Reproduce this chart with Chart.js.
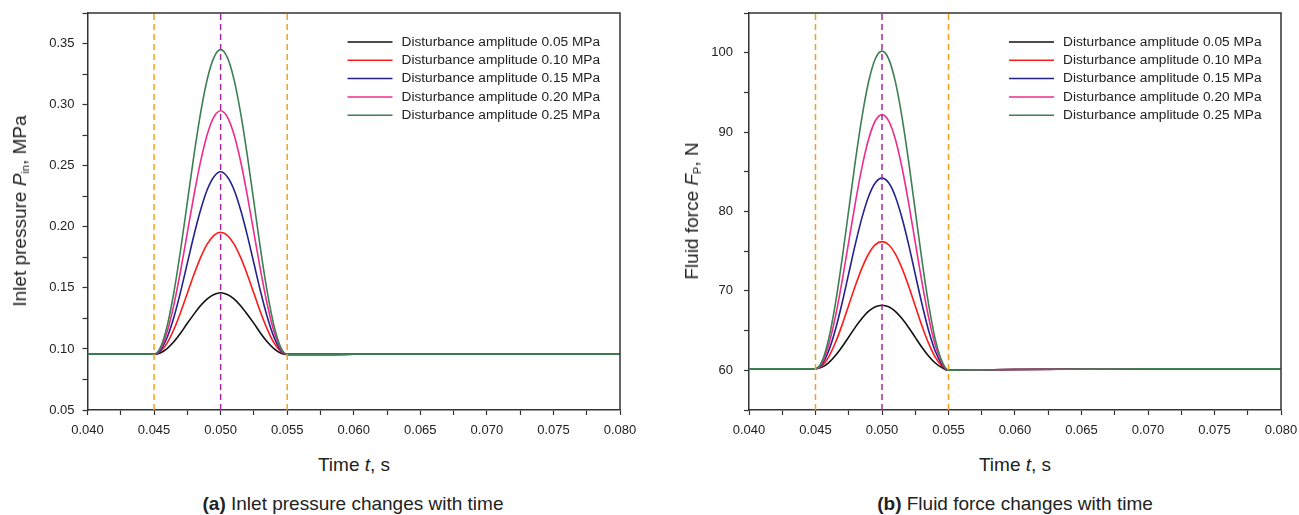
<!DOCTYPE html>
<html>
<head>
<meta charset="utf-8">
<script src="https://cdn.jsdelivr.net/npm/chart.js@4.4.1/dist/chart.umd.min.js"></script>
<style>
    body { margin: 0; background: #fff; font-family: "Liberation Sans", Arial, sans-serif; color: #222; }
    #wrap { position: relative; width: 1299px; height: 515px; overflow: hidden; }
    #wrap canvas { position: absolute; top: 0; }
    .lbl { position: absolute; transform: translate(-50%, -50%); white-space: nowrap; font-size: 19px; }
    .rot { transform: translate(-50%, -50%) rotate(-90deg); }
    .lbl sub { font-size: 11px; vertical-align: -3px; }
</style>
</head>
<body>
<div id="wrap">
    <canvas id="chartPressure" width="640" height="440" style="left:0"></canvas>
    <canvas id="chartForce" width="649" height="440" style="left:650px"></canvas>

    <div class="lbl rot" style="left:20px;top:211px">Inlet pressure <i>P</i><sub>in</sub>, MPa</div>
    <div class="lbl" style="left:354px;top:465px">Time <i>t</i>, s</div>
    <div class="lbl" style="left:353px;top:504px"><b>(a)</b> Inlet pressure changes with time</div>

    <div class="lbl rot" style="left:692px;top:211px">Fluid force <i>F</i><sub>P</sub>, N</div>
    <div class="lbl" style="left:1015px;top:465px">Time <i>t</i>, s</div>
    <div class="lbl" style="left:1015px;top:504px"><b>(b)</b> Fluid force changes with time</div>
</div>

<script>
// time axis (s)
const time = [0.040, 0.0425,
    0.045, 0.0455, 0.046, 0.0465, 0.047, 0.0475, 0.048, 0.0485, 0.049, 0.0495, 0.050,
    0.0505, 0.051, 0.0515, 0.052, 0.0525, 0.053, 0.0535, 0.054, 0.0545, 0.055,
    0.0575, 0.060, 0.065, 0.070, 0.075, 0.080];

const seriesLabels = [
    "Disturbance amplitude 0.05 MPa",
    "Disturbance amplitude 0.10 MPa",
    "Disturbance amplitude 0.15 MPa",
    "Disturbance amplitude 0.20 MPa",
    "Disturbance amplitude 0.25 MPa"
];

// Inlet pressure (MPa)
const pressure005 = [0.0957, 0.0957,
    0.0957, 0.0969, 0.1005, 0.106, 0.113, 0.121, 0.1285, 0.1355, 0.141, 0.1445, 0.146,
    0.1445, 0.141, 0.1354, 0.1284, 0.1209, 0.1129, 0.1059, 0.1003, 0.0967, 0.0955,
    0.0955, 0.0956, 0.0956, 0.0956, 0.0956, 0.0956];
const pressure010 = [0.0957, 0.0957,
    0.0957, 0.0981, 0.1052, 0.1163, 0.1301, 0.1456, 0.1611, 0.175, 0.186, 0.193, 0.1955,
    0.193, 0.186, 0.1749, 0.161, 0.1455, 0.13, 0.1162, 0.1051, 0.098, 0.0955,
    0.0955, 0.0956, 0.0956, 0.0956, 0.0956, 0.0956];
const pressure015 = [0.0957, 0.0957,
    0.0957, 0.0994, 0.11, 0.1264, 0.1471, 0.1702, 0.1933, 0.214, 0.2305, 0.241, 0.245,
    0.241, 0.2305, 0.2139, 0.1932, 0.1701, 0.147, 0.1263, 0.1099, 0.0993, 0.0955,
    0.0955, 0.0956, 0.0956, 0.0956, 0.0956, 0.0956];
const pressure020 = [0.0957, 0.0957,
    0.0957, 0.1006, 0.1147, 0.1367, 0.1644, 0.1952, 0.226, 0.2537, 0.2758, 0.29, 0.295,
    0.29, 0.2757, 0.2536, 0.2259, 0.1951, 0.1643, 0.1366, 0.1146, 0.1005, 0.0955,
    0.0955, 0.0956, 0.0956, 0.0956, 0.0956, 0.0956];
const pressure025 = [0.0957, 0.0957,
    0.0957, 0.1018, 0.1195, 0.147, 0.1816, 0.2202, 0.2588, 0.2934, 0.321, 0.3387, 0.345,
    0.3387, 0.3209, 0.2933, 0.2587, 0.2201, 0.1815, 0.1469, 0.1194, 0.1017, 0.0955,
    0.0955, 0.0956, 0.0956, 0.0956, 0.0956, 0.0956];

// Fluid force (N)
const force005 = [60.2, 60.2,
    60.2, 60.4, 60.96, 61.85, 62.96, 64.2, 65.44, 66.55, 67.44, 68.0, 68.2,
    68.0, 67.43, 66.52, 65.4, 64.15, 62.9, 61.8, 60.92, 60.35, 60.0,
    60.05, 60.1, 60.15, 60.2, 60.2, 60.2];
const force010 = [60.2, 60.2,
    60.2, 60.59, 61.73, 63.5, 65.72, 68.2, 70.68, 72.9, 74.68, 75.82, 76.2,
    75.81, 74.66, 72.87, 70.63, 68.1, 65.62, 63.42, 61.67, 60.56, 60.0,
    60.05, 60.1, 60.15, 60.2, 60.2, 60.2];
const force015 = [60.2, 60.2,
    60.2, 60.79, 62.49, 65.14, 68.48, 72.2, 75.92, 79.26, 81.92, 83.62, 84.2,
    83.61, 81.9, 79.22, 75.86, 72.1, 68.38, 65.04, 62.43, 60.77, 60.0,
    60.05, 60.1, 60.15, 60.2, 60.2, 60.2];
const force020 = [60.2, 60.2,
    60.2, 60.98, 63.26, 66.79, 71.24, 76.2, 81.16, 85.61, 89.16, 91.43, 92.2,
    91.42, 89.14, 85.57, 81.1, 76.1, 71.14, 66.71, 63.2, 60.96, 60.0,
    60.05, 60.1, 60.15, 60.2, 60.2, 60.2];
const force025 = [60.2, 60.2,
    60.2, 61.18, 64.02, 68.44, 74.0, 80.2, 86.4, 91.96, 96.4, 99.24, 100.2,
    99.23, 96.38, 91.92, 86.34, 80.1, 73.9, 68.36, 63.96, 61.16, 60.0,
    60.05, 60.1, 60.15, 60.2, 60.2, 60.2];

// reference instants (dashed vertical lines)
const markerTimes = [0.045, 0.050, 0.055];

const seriesColors = ["#111111", "#ff1a1a", "#23238f", "#ee2c8c", "#3e7f52"];
const markerColors = ["#f5a01c", "#a32a9c", "#f5a01c"];
const FONT = "'Liberation Sans', Arial, sans-serif";

// frame: top + right border lines
const framePlugin = {
    id: "frame",
    afterDatasetsDraw(chart) {
        const { ctx, chartArea: a } = chart;
        ctx.save();
        ctx.strokeStyle = "#333";
        ctx.lineWidth = 1.5;
        ctx.beginPath();
        ctx.moveTo(a.left, a.top);
        ctx.lineTo(a.right, a.top);
        ctx.lineTo(a.right, a.bottom);
        ctx.stroke();
        ctx.restore();
    }
};

// legend drawn inside the plot area
const innerLegend = {
    id: "innerLegend",
    afterDraw(chart) {
        const { ctx, chartArea: a } = chart;
        ctx.save();
        ctx.font = "13.7px " + FONT;
        ctx.textBaseline = "middle";
        seriesLabels.forEach((label, i) => {
            const y = a.top + 29 + i * 18.3;
            const x = a.left + 260;
            ctx.strokeStyle = seriesColors[i];
            ctx.lineWidth = 1.5;
            ctx.beginPath();
            ctx.moveTo(x, y);
            ctx.lineTo(x + 45, y);
            ctx.stroke();
            ctx.fillStyle = "#222";
            ctx.fillText(label, x + 54, y);
        });
        ctx.restore();
    }
};

function makeChart(id, seriesList, yMin, yMax, yStep, yLabel, yWidth, rightPad, yPad) {
    const datasets = [];
    markerTimes.forEach((t, i) => {
        datasets.push({
            data: [{ x: t, y: yMin }, { x: t, y: yMax }],
            borderColor: markerColors[i],
            borderWidth: 1.5,
            borderDash: [6, 4],
            pointRadius: 0,
            order: 0
        });
    });
    seriesList.forEach((vals, i) => {
        datasets.push({
            label: seriesLabels[i],
            data: time.map((t, k) => ({ x: t, y: vals[k] })),
            borderColor: seriesColors[i],
            borderWidth: 1.6,
            pointRadius: 0,
            cubicInterpolationMode: "monotone",
            order: 10 - i
        });
    });

    new Chart(document.getElementById(id), {
        type: "line",
        data: { datasets },
        plugins: [framePlugin, innerLegend],
        options: {
            responsive: false,
            animation: false,
            layout: { padding: { top: 13, right: rightPad, left: 0, bottom: 0 } },
            plugins: { legend: { display: false }, tooltip: { enabled: false } },
            scales: {
                x: {
                    type: "linear",
                    min: 0.040, max: 0.080,
                    afterFit: s => { s.height = 30; s.paddingLeft = 0; s.paddingRight = 0; },
                    border: { color: "#333", width: 1.5 },
                    grid: { drawOnChartArea: false, tickLength: 5, color: "#333", tickWidth: 1.2 },
                    ticks: {
                        stepSize: 0.0025, autoSkip: false, maxRotation: 0, padding: 8,
                        color: "#222", font: { family: FONT, size: 13 },
                        callback: v => (Math.round(v / 0.0025) % 2 === 0 ? v.toFixed(3) : "")
                    }
                },
                y: {
                    min: yMin, max: yMax,
                    afterFit: s => { s.width = yWidth; s.paddingTop = 0; s.paddingBottom = 0; },
                    border: { color: "#333", width: 1.5 },
                    grid: { drawOnChartArea: false, tickLength: 5, color: "#333", tickWidth: 1.2 },
                    ticks: {
                        stepSize: yStep, autoSkip: false, padding: yPad,
                        color: "#222", font: { family: FONT, size: 13 },
                        callback: yLabel
                    }
                }
            }
        }
    });
}

makeChart("chartPressure",
    [pressure005, pressure010, pressure015, pressure020, pressure025],
    0.05, 0.375, 0.025,
    v => (Math.round(v / 0.025) % 2 === 0 ? v.toFixed(2) : ""),
    87.5, 20, 8);

makeChart("chartForce",
    [force005, force010, force015, force020, force025],
    55, 105, 5,
    v => (Math.round(v) % 10 === 0 ? String(Math.round(v)) : ""),
    99, 18, 11);
</script>
</body>
</html>
